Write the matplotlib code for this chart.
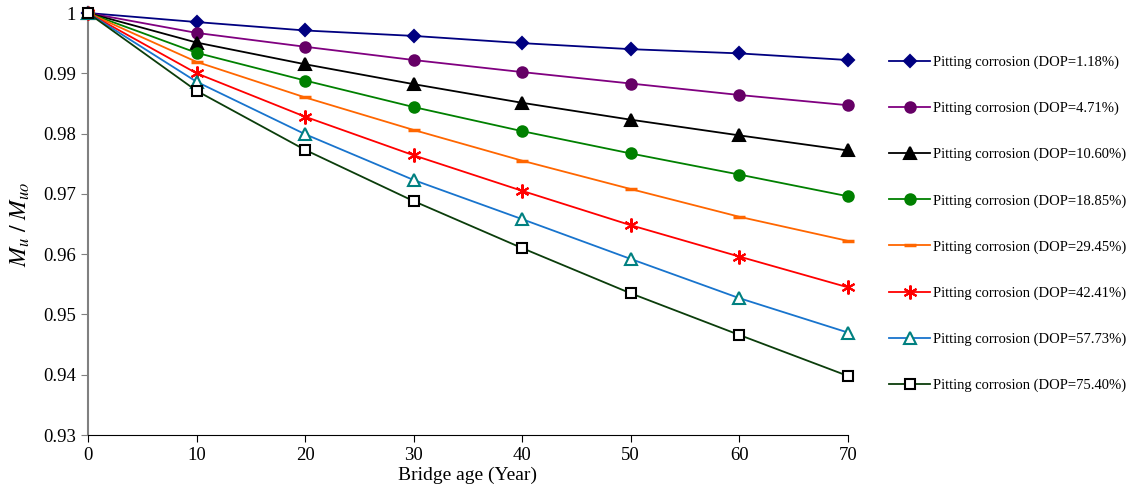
import matplotlib
matplotlib.use("Agg")
import matplotlib.pyplot as plt

plt.rcParams['font.family'] = ['Liberation Serif', 'DejaVu Serif']
plt.rcParams['mathtext.fontset'] = 'stix'

years = [0, 10, 20, 30, 40, 50, 60, 70]
dop_labels = ['1.18%', '4.71%', '10.60%', '18.85%', '29.45%', '42.41%', '57.73%', '75.40%']

mu_118 = [1.0, 0.9985, 0.9971, 0.9962, 0.9950, 0.9940, 0.9933, 0.9922]
mu_471 = [1.0, 0.9967, 0.9944, 0.9922, 0.9902, 0.9883, 0.9864, 0.9847]
mu_1060 = [1.0, 0.9951, 0.9915, 0.9882, 0.9851, 0.9823, 0.9797, 0.9772]
mu_1885 = [1.0, 0.9934, 0.9888, 0.9844, 0.9804, 0.9767, 0.9732, 0.9696]
mu_2945 = [1.0, 0.9919, 0.9860, 0.9806, 0.9755, 0.9708, 0.9662, 0.9622]
mu_4241 = [1.0, 0.9900, 0.9828, 0.9764, 0.9705, 0.9648, 0.9596, 0.9545]
mu_5773 = [1.0, 0.9886, 0.9799, 0.9723, 0.9658, 0.9592, 0.9527, 0.9470]
mu_7540 = [1.0, 0.9871, 0.9773, 0.9688, 0.9610, 0.9535, 0.9466, 0.9398]

yticks = [0.93, 0.94, 0.95, 0.96, 0.97, 0.98, 0.99, 1.0]
ytick_labels = ['0.93', '0.94', '0.95', '0.96', '0.97', '0.98', '0.99', '1']

series = [mu_118, mu_471, mu_1060, mu_1885, mu_2945, mu_4241, mu_5773, mu_7540]
# (line colour, marker, marker face, marker edge, marker size)
styles = [
    ('#000080', 'D', '#000080', '#000080', 6.5),
    ('#800080', 'o', '#660066', '#660066', 7.5),
    ('#000000', '^', '#000000', '#000000', 8),
    ('#008000', 'o', '#008000', '#008000', 7.5),
    ('#FF6600', '_', '#FF6600', '#FF6600', 8),
    ('#FF0000', (6, 2, 0), '#FF0000', '#FF0000', 10),
    ('#1874CD', '^', 'white', '#008080', 8),
    ('#0B3D0B', 's', 'white', '#000000', 7),
]

fig = plt.figure(figsize=(11.35, 5), dpi=100)
ax = fig.add_axes([0.0775, 0.13, 0.6695, 0.844])

for vals, lab, (lc, mk, mfc, mec, ms) in zip(series, dop_labels, styles):
    mew = 2.5 if mk == '_' else 1.5
    ax.plot(years, vals, color=lc, lw=1.3, marker=mk, markersize=ms,
            markerfacecolor=mfc, markeredgecolor=mec, markeredgewidth=mew,
            clip_on=False, zorder=3,
            label='Pitting corrosion (DOP=' + lab + ')')

ax.set_xlim(0, 70)
ax.set_ylim(0.93, 1.0)
ax.set_xticks(years)
ax.set_yticks(yticks)
ax.set_yticklabels(ytick_labels)
ax.tick_params(axis='both', labelsize=13.5, direction='out', length=5)
ax.tick_params(axis='y', color='#808080')
ax.spines['top'].set_visible(False)
ax.spines['right'].set_visible(False)
ax.spines['left'].set_color('#808080')
ax.spines['left'].set_linewidth(1.5)
ax.set_xlabel('Bridge age (Year)', fontsize=14, labelpad=2)
ax.set_ylabel(r'$M_u\ /\ M_{uo}$', fontsize=17, labelpad=8)

fig.legend(loc='upper left', bbox_to_anchor=(0.772, 0.915), frameon=False,
           fontsize=10.5, labelspacing=2.24, handlelength=2.8, handletextpad=0.2)

fig.savefig('out.png', dpi=100)
